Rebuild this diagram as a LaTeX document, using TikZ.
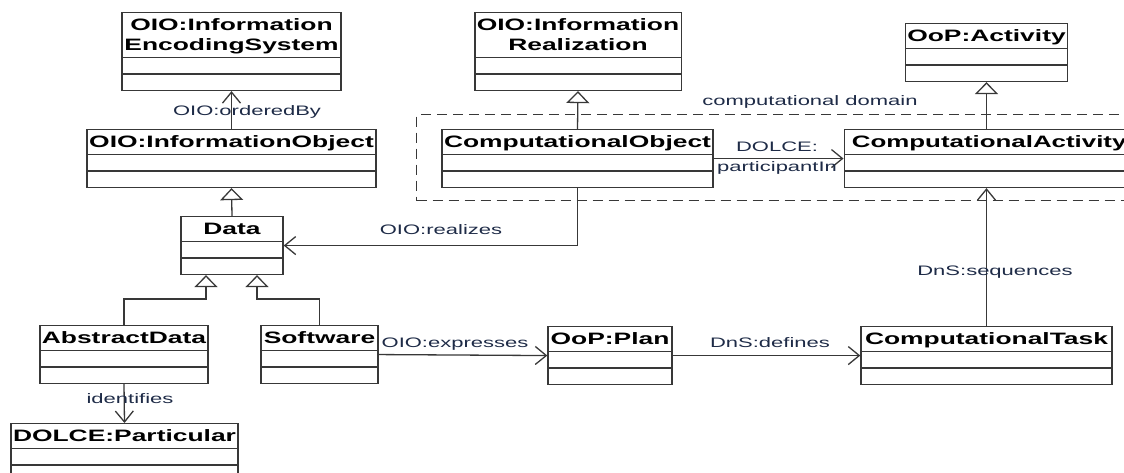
\documentclass[tikz,border=0pt]{standalone}
\usepackage{fontspec}
\setmainfont[FakeStretch=1.6]{Liberation Sans}
\usepackage{xcolor}
\usepackage{tikz}
\usetikzlibrary{arrows.meta, calc, shapes.multipart}
\definecolor{umlline}{HTML}{383838}
\definecolor{umltext}{HTML}{1E2B47}
\newcommand{\cname}[1]{\rule{0pt}{17.5pt}#1\rule[-6pt]{0pt}{0pt}}

\begin{document}
\begin{tikzpicture}[x=1pt, y=-1pt,
  umlclass/.style={draw=umlline, line width=1.4pt, fill=white, anchor=north,
    rectangle split, rectangle split parts=3,
    rectangle split empty part height=15pt, rectangle split empty part depth=0pt,
    inner xsep=2pt, inner ysep=0pt, align=center,
    font=\bfseries\fontsize{16.5}{20}\selectfont},
  assoc/.style={draw=umlline, line width=1.3pt, -{Straight Barb[length=11pt,width=18pt]}},
  inherit/.style={draw=umlline, line width=1.3pt, -{Triangle[open,length=12pt,width=23pt]}},
  lbl/.style={text=umltext, inner sep=0pt, anchor=base, font=\fontsize{13.75}{20}\selectfont},
  domainbox/.style={draw=umlline, line width=1.1pt, dash pattern=on 10pt off 6pt}]
\useasboundingbox (0,0) rectangle (1124,472);
\clip (0,0) rectangle (1124,472);
% --- computational domain frame ---
\node[domainbox, anchor=north west, minimum width=740pt, minimum height=86pt] (domain) at (416,114) {};
\node[lbl] (ldom) at (810,105) {computational domain};
% --- information side (left) ---
\node[umlclass, minimum width=219pt] (es) at (231.5,12) {\cname{OIO:Information\\EncodingSystem}};
\node[umlclass, minimum width=289pt] (io) at (231.5,129) {\cname{OIO:InformationObject}};
\node[umlclass, minimum width=102pt] (data) at (232,216) {\cname{Data}};
\node[umlclass, minimum width=168pt] (adata) at (124,325) {\cname{AbstractData}};
\node[umlclass, minimum width=117pt] (sw) at (319.5,325) {\cname{Software}};
\node[umlclass, minimum width=227pt] (part) at (124.5,423) {\cname{DOLCE:Particular}};
% --- computational side (right) ---
\node[umlclass, minimum width=206pt] (ir) at (578,12) {\cname{OIO:Information\\Realization}};
\node[umlclass, minimum width=271pt] (co) at (577.5,129) {\cname{ComputationalObject}};
\node[umlclass, minimum width=161pt] (act) at (986.5,23) {\cname{OoP:Activity}};
\node[umlclass, anchor=north west, inner xsep=0pt, minimum width=290pt] (ca) at (843.5,129)
  {\cname{\scalebox{0.98}[1]{ComputationalActivity}}};
\node[umlclass, minimum width=124pt] (plan) at (610,326) {\cname{OoP:Plan}};
\node[umlclass, minimum width=251pt] (ct) at (986.5,326) {\cname{ComputationalTask}};
% --- generalisations ---
\draw[inherit] (data.north) -- (io.south);
\draw[inherit] (adata.north) -- ++(0,-26) -| ([xshift=-26pt]data.south);
\draw[inherit] (sw.north) -- ++(0,-26) -| ([xshift=25pt]data.south);
\draw[inherit] (co.north) -- (ir.south);
\draw[inherit] (act.south |- ca.north) -- (act.south);
% --- associations ---
\draw[assoc] (io.north) -- (es.south);
\node[lbl] (lorder) at (247,115) {OIO:orderedBy};
\draw[assoc] (co.south) |- (data.east);
\node[lbl] (lreal) at (441,234) {OIO:realizes};
\draw[assoc] (adata.south) -- (part.north);
\node[lbl] (lident) at (130,403) {identifies};
\draw[assoc] (sw.east) -- (plan.west);
\node[lbl] (lexpr) at (455,347) {OIO:expresses};
\draw[assoc] (plan.east) -- (ct.west);
\node[lbl] (ldef) at (770,347) {DnS:defines};
\draw[assoc] (ct.north) -- (ct.north |- ca.south);
\node[lbl] (lseq) at (995,275) {DnS:sequences};
\draw[assoc] (co.east) -- (ca.west);
\node[lbl, anchor=center, align=center] (lpart) at (777,158.5) {DOLCE:\\participantIn};
\end{tikzpicture}
\end{document}
